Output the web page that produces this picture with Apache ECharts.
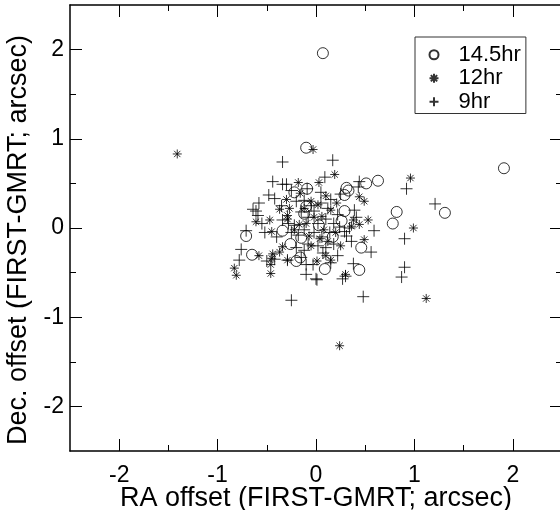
<!DOCTYPE html>
<html>
<head>
<meta charset="utf-8">
<script src="https://cdn.jsdelivr.net/npm/echarts@6/dist/echarts.min.js"></script>
<style>
  html, body { margin: 0; background: #fff; }
  #chart { width: 560px; height: 510px; }
</style>
</head>
<body>
<div id="chart"></div>
<script>
// offsets, [RA, Dec] in arcsec
const hr145 = [
  [0.07, 1.96], [-0.10, 0.90], [-0.22, 0.40], [-0.09, 0.44], [-0.10, 0.24],
  [-0.12, 0.16], [-0.34, -0.03], [-0.71, -0.09], [-0.15, -0.11], [-0.26, -0.18],
  [-0.65, -0.30], [-0.16, -0.33], [-0.20, -0.37], [0.09, -0.46], [0.44, -0.47],
  [0.46, -0.22], [0.17, -0.10], [0.26, 0.08], [0.29, 0.19], [0.31, 0.45],
  [0.33, 0.42], [0.29, 0.37], [0.51, 0.50], [0.63, 0.53], [0.82, 0.18],
  [0.78, 0.05], [1.31, 0.17], [1.91, 0.67], [0.03, 0.03]
]
const hr12 = [
  [-1.41, 0.83], [-0.03, 0.88], [0.19, 0.60], [0.03, 0.51], [-0.18, 0.51],
  [-0.16, 0.39], [-0.30, 0.32], [0.02, 0.26], [-0.37, 0.21], [-0.27, 0.22],
  [-0.29, 0.14], [-0.61, 0.07], [-0.47, 0.09], [-0.29, 0.10], [-0.17, 0.04],
  [-0.45, -0.04], [-0.07, -0.09], [-0.34, -0.21], [-0.58, -0.31], [-0.37, -0.27],
  [-0.44, -0.29], [-0.45, -0.34], [-0.46, -0.41], [-0.46, -0.51], [-0.83, -0.45],
  [-0.81, -0.53], [0.01, -0.37], [-0.29, -0.36], [0.96, 0.56], [0.44, 0.35],
  [0.49, 0.30], [0.38, 0.09], [0.53, 0.09], [0.44, 0.04], [0.99, 0.00],
  [0.36, 0.02], [0.49, -0.13], [0.10, -0.31], [0.30, -0.52], [1.12, -0.79],
  [0.24, -1.32], [-0.05, 0.30], [0.06, 0.13], [0.15, 0.20], [-0.10, 0.05],
  [0.08, -0.02], [0.20, -0.05], [-0.05, -0.20], [0.12, -0.15], [0.21, 0.28],
  [0.10, 0.36], [-0.02, 0.12], [0.25, -0.20], [0.15, -0.36], [-0.22, -0.02],
  [0.04, -0.12], [-0.12, 0.22]
]
const hr9 = [
  [0.17, 0.76], [-0.34, 0.74], [-0.44, 0.52], [-0.34, 0.49], [-0.30, 0.49],
  [-0.09, 0.44], [0.09, 0.57], [-0.48, 0.37], [-0.42, 0.33], [-0.58, 0.28],
  [-0.64, 0.21], [-0.61, 0.19], [-0.59, 0.14], [-0.34, 0.09], [-0.71, -0.03],
  [-0.76, -0.24], [-0.78, -0.36], [-0.50, -0.37], [-0.42, -0.35], [-0.29, -0.36],
  [-0.15, -0.33], [-0.10, -0.41], [-0.03, -0.41], [-0.10, -0.52], [0.00, -0.57],
  [-0.25, -0.81], [0.44, 0.52], [0.43, 0.46], [0.92, 0.44], [1.21, 0.27],
  [0.39, 0.20], [0.41, 0.12], [0.59, -0.03], [0.24, 0.01], [0.29, -0.04],
  [0.34, 0.00], [0.90, -0.12], [0.31, -0.09], [0.36, -0.15], [0.56, -0.27],
  [0.22, -0.31], [0.07, -0.28], [0.15, -0.39], [0.38, -0.40], [0.01, -0.58],
  [0.27, -0.57], [0.30, -0.54], [0.90, -0.44], [0.87, -0.55], [0.48, -0.77],
  [-0.20, 0.30], [-0.12, 0.31], [-0.05, 0.25], [0.05, 0.28], [0.12, 0.22],
  [-0.15, 0.18], [-0.08, 0.12], [0.02, 0.05], [0.10, 0.10], [0.18, 0.05],
  [-0.22, 0.03], [-0.12, -0.02], [-0.02, -0.05], [0.06, -0.10], [0.14, -0.05],
  [-0.18, -0.08], [-0.08, -0.18], [0.02, -0.20], [0.10, -0.22], [-0.20, -0.22],
  [-0.12, -0.25], [0.18, -0.18], [-0.28, 0.05], [-0.25, -0.05], [0.05, 0.40],
  [-0.25, 0.42], [0.15, 0.32], [0.22, 0.15], [-0.40, -0.10], [-0.52, -0.05],
  [-0.55, 0.05], [-0.35, 0.25], [0.25, 0.38], [-0.02, 0.19]
]
const majorTicks = [-2, -1, 0, 1, 2]
const minorTicks = [-1.5, -0.5, 0.5, 1.5]
const seriesNames = ['14.5hr', '12hr', '9hr']

const font = "'Liberation Sans', Arial, sans-serif"
const ink = '#000'

function frameAxes(pos, far, name, gap, labelMargin, namePad) {
  var base = {
    type: 'value', min: -2.5, max: 2.5,
    splitLine: {show: false},
    axisLine: {show: false, onZero: false},
    axisLabel: {show: false}
  }
  return [
    Object.assign({}, base, {
      position: pos,
      name: name,
      nameLocation: 'middle',
      nameGap: gap,
      nameMoveOverlap: false,
      nameTextStyle: {fontSize: 27, color: ink, fontFamily: font, padding: namePad},
      axisLine: {show: true, onZero: false, lineStyle: {color: ink, width: 1.5}},
      axisTick: {inside: true, length: 12, customValues: majorTicks, lineStyle: {color: ink}},
      axisLabel: {show: true, customValues: majorTicks, fontSize: 23, color: ink,
        fontFamily: font, margin: labelMargin}
    }),
    Object.assign({}, base, {
      position: far,
      axisLine: {show: true, onZero: false, lineStyle: {color: ink, width: 1.5}},
      axisTick: {inside: true, length: 12, customValues: majorTicks, lineStyle: {color: ink}}
    }),
    Object.assign({}, base, {
      position: pos,
      axisTick: {inside: true, length: 6, customValues: minorTicks, lineStyle: {color: ink}}
    }),
    Object.assign({}, base, {
      position: far,
      axisTick: {inside: true, length: 6, customValues: minorTicks, lineStyle: {color: ink}}
    })
  ]
}

const hollow = {color: 'rgba(0,0,0,0)', borderColor: ink, borderWidth: 1}

const chart = echarts.init(document.getElementById('chart'))
chart.setOption({
  animation: false,
  textStyle: {fontFamily: font},
  grid: {left: 70, top: 5, width: 492, height: 446, outerBoundsMode: 'none', containLabel: false},
  xAxis: frameAxes('bottom', 'top', 'RA offset (FIRST-GMRT; arcsec)', 34, 13, 0),
  yAxis: frameAxes('left', 'right', 'Dec. offset (FIRST-GMRT; arcsec)', 38, 6, [0, 24, 0, 0]),
  legend: {
    orient: 'vertical',
    left: 415, top: 37,
    padding: [6, 5, 0, 13.5],
    itemWidth: 9, itemHeight: 9, itemGap: 0,
    borderColor: '#333', borderWidth: 1,
    textStyle: {fontSize: 22, lineHeight: 23.5, color: ink, fontFamily: font, padding: [0, 0, 0, 15]},
    data: seriesNames
  },
  series: [
    {name: seriesNames[0], type: 'scatter', data: hr145, symbol: 'circle',
      symbolSize: 11, itemStyle: hollow},
    {name: seriesNames[1], type: 'scatter', data: hr12, symbolKeepAspect: true,
      symbol: 'path://M5,0L5,10M0,5L10,5M1.5,1.5L8.5,8.5M8.5,1.5L1.5,8.5',
      symbolSize: 9, itemStyle: hollow},
    {name: seriesNames[2], type: 'scatter', data: hr9, symbolKeepAspect: true,
      symbol: 'path://M6,0L6,12M0,6L12,6',
      symbolSize: 12, itemStyle: hollow}
  ]
})
</script>
</body>
</html>
